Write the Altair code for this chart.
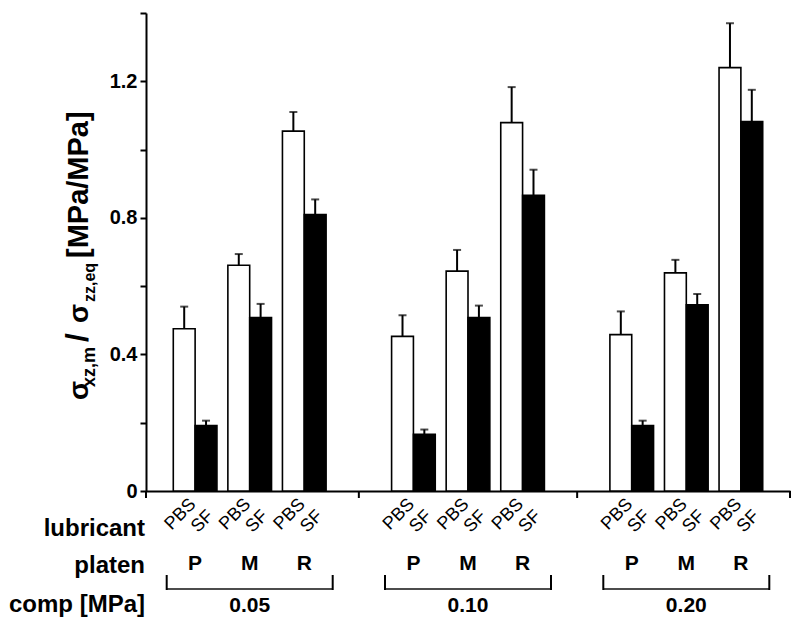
import altair as alt
import pandas as pd

# ---------------- data ----------------
COMPS = ["0.05", "0.10", "0.20"]
PLATENS = ["P", "M", "R"]
LUBS = ["PBS", "SF"]
PBS_MEAN = [0.475, 0.661, 1.054, 0.453, 0.644, 1.079, 0.458, 0.639, 1.240]
PBS_ERR = [0.065, 0.033, 0.056, 0.062, 0.062, 0.104, 0.068, 0.038, 0.130]
SF_MEAN = [0.192, 0.508, 0.810, 0.166, 0.508, 0.866, 0.192, 0.545, 1.082]
SF_ERR = [0.014, 0.040, 0.044, 0.014, 0.035, 0.075, 0.014, 0.032, 0.093]
ROW_LABELS = ["lubricant", "platen", "comp [MPa]"]
TITLE_PARTS = ["σ", "xz,m", "/", "σ", "zz,eq", "[MPa/MPa]"]
Y_TICKS = [0, 0.2, 0.4, 0.6, 0.8, 1.0, 1.2, 1.4]
SPACERS = ["gap1", "gap2"]

rows = []
i = 0
for c in COMPS:
    for p in PLATENS:
        rows.append(dict(comp=c, platen=p, lub="PBS", slot=f"{c}|{p}",
                         mean=PBS_MEAN[i], err=PBS_ERR[i]))
        rows.append(dict(comp=c, platen=p, lub="SF", slot=f"{c}|{p}",
                         mean=SF_MEAN[i], err=SF_ERR[i]))
        i += 1
df = pd.DataFrame(rows)

slot_domain = []
for gi, c in enumerate(COMPS):
    slot_domain += [f"{c}|{p}" for p in PLATENS]
    if gi < len(SPACERS):
        slot_domain.append(SPACERS[gi])

LABEL_ANGLE = 315
pbs_lab = pd.DataFrame({"slot": [f"{c}|{p}" for c in COMPS for p in PLATENS], "lab": LUBS[0]})
sf_lab = pd.DataFrame({"slot": [f"{c}|{p}" for c in COMPS for p in PLATENS], "lab": LUBS[1]})

# ---------------- styling ----------------
W, H = 644, 478
FONT = "Liberation Sans"
x_scale = alt.Scale(domain=slot_domain, paddingInner=0.2, paddingOuter=0.5)
xo_scale = alt.Scale(domain=LUBS, paddingInner=0, paddingOuter=0)
x_axis = alt.Axis(labels=False, ticks=False, title=None, domainWidth=2,
                  domainColor="black", grid=False)
X = alt.X("slot:N", scale=x_scale, axis=x_axis)
XO = alt.XOffset("lub:N", scale=xo_scale)
y_scale = alt.Scale(domain=[0, 1.4], nice=False, zero=True)
y_axis = alt.Axis(values=Y_TICKS, title=None, grid=False,
                  labelExpr="round(datum.value*10) % 4 == 0 ? (datum.value == 0 ? '0' : format(datum.value, '.1f')) : ''",
                  tickSize=6, tickWidth=2, tickColor="black",
                  domainWidth=2, domainColor="black",
                  labelFont=FONT, labelFontSize=20, labelFontWeight="bold",
                  labelColor="black", labelPadding=3)

base = alt.Chart(df)

bars = base.mark_bar(stroke="black", strokeWidth=1.6).encode(
    x=X, xOffset=XO,
    y=alt.Y("mean:Q", scale=y_scale, axis=y_axis),
    fill=alt.Fill("lub:N", scale=alt.Scale(domain=LUBS, range=["white", "black"]), legend=None),
)

err_rule = base.transform_calculate(upper="datum.mean + datum.err").mark_rule(
    color="black", strokeWidth=2).encode(
    x=X, xOffset=XO,
    y=alt.Y("mean:Q", scale=y_scale, axis=y_axis),
    y2="upper:Q",
)
err_cap = base.transform_calculate(upper="datum.mean + datum.err").mark_tick(
    orient="horizontal", size=8, thickness=2, color="black").encode(
    x=X, xOffset=XO,
    y=alt.Y("upper:Q", scale=y_scale, axis=y_axis),
)

# lubricant labels (rotated), positioned at each sub-bar centre
SUB = 11
lub_pbs = alt.Chart(pbs_lab).transform_calculate(ang=str(LABEL_ANGLE)).mark_text(
    align="center", baseline="alphabetic", font=FONT, fontSize=18,
    color="black", xOffset=-SUB).encode(
    x=X, y=alt.value(505), text="lab:N",
    angle=alt.Angle("ang:Q", scale=None))
lub_sf = alt.Chart(sf_lab).transform_calculate(ang=str(LABEL_ANGLE)).mark_text(
    align="center", baseline="alphabetic", font=FONT, fontSize=18,
    color="black", xOffset=SUB).encode(
    x=X, y=alt.value(512), text="lab:N",
    angle=alt.Angle("ang:Q", scale=None))

# platen labels
pairs = base.transform_filter("datum.lub == 'PBS'")
plat = pairs.mark_text(font=FONT, fontSize=21, fontWeight="bold", color="black",
                       baseline="alphabetic").encode(
    x=X, y=alt.value(557), text="platen:N")

# comp brackets + labels
mids = base.transform_filter("datum.lub == 'PBS' && datum.platen == 'M'")
BR = 83
br_h = mids.mark_tick(orient="horizontal", size=2 * BR, thickness=2, color="black").encode(
    x=X, y=alt.value(576))
br_l = mids.mark_rule(color="black", strokeWidth=2, xOffset=-BR).encode(
    x=X, y=alt.value(562), y2=alt.value(577))
br_r = mids.mark_rule(color="black", strokeWidth=2, xOffset=BR).encode(
    x=X, y=alt.value(562), y2=alt.value(577))
comp_txt = mids.mark_text(font=FONT, fontSize=21, fontWeight="bold", color="black",
                          baseline="alphabetic").encode(
    x=X, y=alt.value(599), text="comp:N")

# group-boundary ticks on the x axis
sp = alt.Chart(pd.DataFrame({"slot": SPACERS}))
gtick = sp.mark_rule(color="black", strokeWidth=2).encode(
    x=X, y=alt.value(H), y2=alt.value(H + 7))
tick0 = alt.Chart(pd.DataFrame({"e": ["start"]})).mark_rule(color="black", strokeWidth=2).encode(
    x=alt.value(0), y=alt.value(H), y2=alt.value(H + 7))
tick1 = alt.Chart(pd.DataFrame({"e": ["end"]})).mark_rule(color="black", strokeWidth=2).encode(
    x=alt.value(W), y=alt.value(H), y2=alt.value(H + 7))

# row labels
row_y = [523, 560, 599]
row_layers = []
for lbl, yy in zip(ROW_LABELS, row_y):
    row_layers.append(
        alt.Chart(pd.DataFrame({"t": [lbl]})).mark_text(
            font=FONT, fontSize=24, fontWeight="bold", color="black",
            align="right", baseline="alphabetic").encode(
            x=alt.value(-1), y=alt.value(yy), text="t:N"))

# y-axis title pieces (rotated, with subscripts)
title_pos = [(-58, 387, 28), (-51, 374, 18), (-58, 329, 32),
             (-58, 310, 28), (-51, 289, 16), (-58, 245, 29)]
title_layers = []
for part, (xx, yy, fs) in zip(TITLE_PARTS, title_pos):
    title_layers.append(
        alt.Chart(pd.DataFrame({"t": [part]})).mark_text(
            font=FONT, fontSize=fs, fontWeight="bold", color="black",
            angle=270, align="left", baseline="alphabetic").encode(
            x=alt.value(xx), y=alt.value(yy), text="t:N"))

chart = alt.layer(
    bars, err_rule, err_cap, lub_pbs, lub_sf, plat, br_h, br_l, br_r, comp_txt,
    gtick, tick0, tick1, *row_layers, *title_layers
).properties(
    width=W, height=H,
    autosize=alt.AutoSizeParams(type="none"),
    padding={"left": 138, "top": 5, "right": 2, "bottom": 127},
).configure_view(stroke=None)

chart.save("out.html", embed_options={"renderer": "svg", "actions": False})
